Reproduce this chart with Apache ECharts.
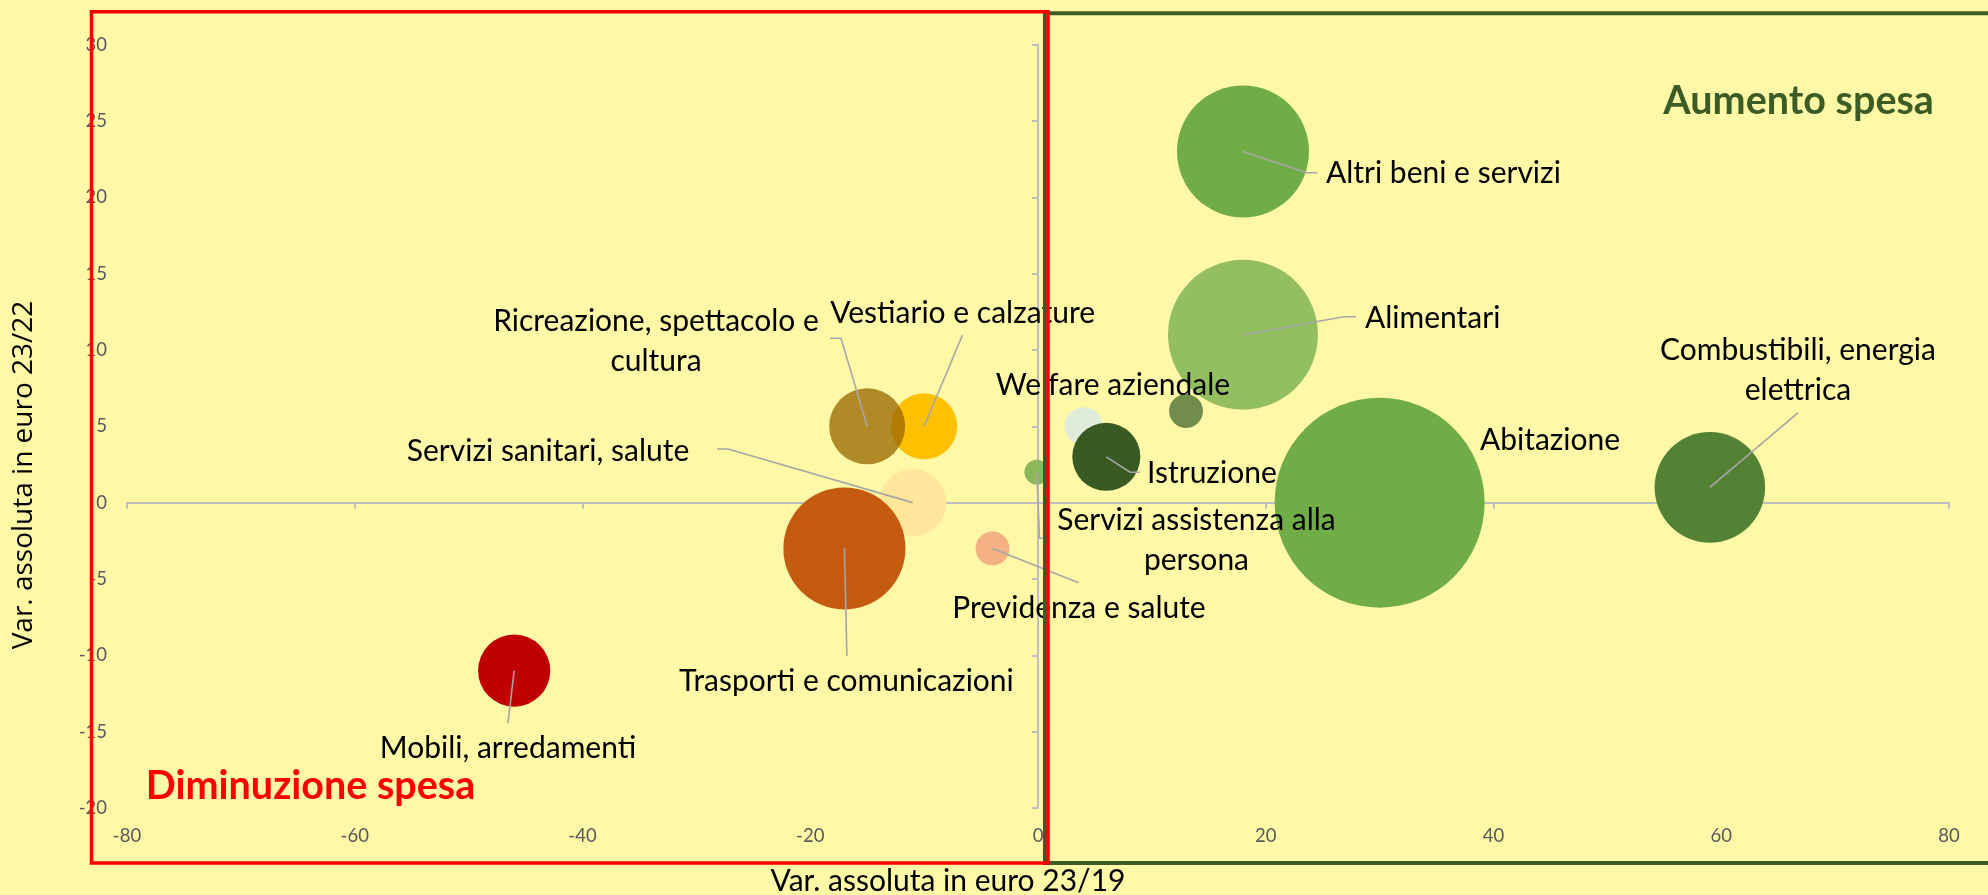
<!DOCTYPE html>
<html>
<head>
<meta charset="utf-8">
<script src="https://cdn.jsdelivr.net/npm/echarts@6/dist/echarts.min.js"></script>
<style>
  html, body { margin: 0; padding: 0; background: #FFF8A6; }
  #chart { width: 1988px; height: 895px; }
</style>
</head>
<body>
<div id="chart"></div>
<script>
// ---- data ----
const categories = [
  "Servizi sanitari, salute",
  "Trasporti e comunicazioni",
  "Mobili, arredamenti",
  "Previdenza e salute",
  "Vestiario e calzature",
  "Ricreazione, spettacolo e\ncultura",
  "Servizi assistenza alla\npersona",
  "Welfare aziendale",
  "Istruzione",
  "",
  "Altri beni e servizi",
  "Alimentari",
  "Abitazione",
  "Combustibili, energia\nelettrica"
];
const varAbs2319 = [-11, -17, -46, -4, -10, -15, -0.1, 4, 6, 13, 18, 18, 30, 59];
const varAbs2322 = [0, -3, -11, -3, 5, 5, 2, 5, 3, 6, 23, 11, 0, 1];
const bubbleSize = [10.2, 33.8, 11.8, 2.6, 9.9, 13.1, 1.4, 3.3, 10.5, 2.6, 39.5, 51, 100, 27.7];
const xTicks = { min: -80, max: 80, step: 20 };
const yTicks = { min: -20, max: 30, step: 5 };

// ---- styles / layout (not data) ----
const bubbleColors = [
  "#FFE699", "#C55A11", "#C00000", "#F4B183", "#FFC000", "rgba(153,102,0,0.76)",
  "#8DB75B", "#E0ECDA", "#3A5A24", "#718C4B", "#70AD47", "#94BF61", "#70AD47", "#548235"
];
// label offsets (px) from the bubble centre, with leader-line bend points
const labelLayout = [
  { dx: -364.7, dy: -51, align: "center", lead: [[-184.7, -53.7], [-195.7, -53.7]] },
  { dx: 2, dy: 133.2, align: "center", lead: [[2.5, 107.2]] },
  { dx: -6.2, dy: 77.6, align: "center", lead: [[-6.2, 52.6]] },
  { dx: 86.5, dy: 59.5, align: "center", lead: [[86.1, 34.2]] },
  { dx: 38.5, dy: -113, align: "center", lead: [[38.4, -91.3]] },
  { dx: -211.2, dy: -85.3, align: "center", lead: [[-26.2, -88], [-37.2, -88]] },
  { dx: 159.6, dy: 67.8, align: "center", lead: [[2.6, 66.1], [10, 66.1]] },
  { dx: 29.4, dy: -41.3, align: "center", lead: null },
  { dx: 40.7, dy: 16.4, align: "left", lead: [[23.7, 15.4], [33.4, 15.4]] },
  null,
  { dx: 83, dy: 21.5, align: "left", lead: [[64, 21.2], [74.4, 21.2]] },
  { dx: 122, dy: -16.7, align: "left", lead: [[101, -18], [113, -18]] },
  { dx: 170.4, dy: -62.7, align: "center", lead: null },
  { dx: 88.1, dy: -117.4, align: "center", lead: [[88.1, -74.4]] }
];

const LABEL_FONT = "30px Lato";
const TICK_COLOR = "#595959";
const AXIS_COLOR = "#BFBFBF";

const bubbleData = categories.map((name, i) => ({
  name: name,
  value: [varAbs2319[i], varAbs2322[i], bubbleSize[i]],
  itemStyle: { color: bubbleColors[i], opacity: 1 }
}));

const chart = echarts.init(document.getElementById("chart"), null, { renderer: "canvas" });

const labelAxis = (pos, t) => ({
  type: "value", position: pos, min: t.min, max: t.max, interval: t.step,
  axisLine: { show: false, onZero: false },
  axisTick: { show: false },
  splitLine: { show: false },
  axisLabel: { color: TICK_COLOR, fontFamily: "Lato", fontSize: 18.5, margin: pos === "left" ? 20 : 19 }
});
const lineAxis = (pos, t) => ({
  type: "value", position: pos, min: t.min, max: t.max, interval: t.step,
  axisLine: { show: true, onZero: true, onZeroAxisIndex: 0, lineStyle: { color: AXIS_COLOR, width: 2 } },
  axisTick: { show: true, inside: true, length: 6, lineStyle: { color: AXIS_COLOR, width: 2 } },
  splitLine: { show: false },
  axisLabel: { show: false }
});

chart.setOption({
  animation: false,
  backgroundColor: "#FFF8A6",
  grid: { left: 127, right: 39, top: 44.6, bottom: 87, containLabel: false, outerBoundsMode: "none" },
  xAxis: [labelAxis("bottom", xTicks), lineAxis("top", xTicks)],
  yAxis: [labelAxis("left", yTicks), lineAxis("right", yTicks)],
  series: [
    {
      type: "scatter",
      xAxisIndex: 0, yAxisIndex: 0,
      symbol: "circle",
      symbolSize: (val) => 21 * Math.sqrt(val[2]),
      data: bubbleData,
      itemStyle: { opacity: 1 },
      silent: true,
      z: 3
    },
    {
      type: "custom",
      xAxisIndex: 0, yAxisIndex: 0,
      clip: false,
      silent: true,
      z: 5,
      data: bubbleData.map(d => d.value),
      renderItem: function (params, api) {
        const L = labelLayout[params.dataIndex];
        const text = categories[params.dataIndex];
        if (!L || !text) return { type: "group", children: [] };
        const c = api.coord([api.value(0), api.value(1)]);
        const children = [];
        if (L.lead) {
          const pts = [[c[0], c[1]]].concat(L.lead.map(p => [c[0] + p[0], c[1] + p[1]]));
          children.push({
            type: "polyline",
            shape: { points: pts },
            style: { stroke: "#A6A6A6", lineWidth: 1.6, fill: null }
          });
        }
        children.push({
          type: "text",
          x: c[0] + L.dx, y: c[1] + L.dy,
          style: {
            text: text, font: LABEL_FONT, fill: "#000000",
            align: L.align, verticalAlign: "middle", lineHeight: 40
          }
        });
        return { type: "group", children: children };
      }
    }
  ],
  graphic: [
    { type: "rect", z: 100, silent: true,
      shape: { x: 1045, y: 13.3, width: 1000, height: 849.7 },
      style: { fill: null, stroke: "#3B5C24", lineWidth: 4 } },
    { type: "rect", z: 101, silent: true,
      shape: { x: 91.5, y: 11.7, width: 956.5, height: 851.3 },
      style: { fill: null, stroke: "#FF0000", lineWidth: 3.5 } },
    { type: "text", z: 102, silent: true, x: 310.5, y: 786,
      style: { text: "Diminuzione spesa", font: "bold 39.5px Lato", fill: "#FF0000", align: "center", verticalAlign: "middle" } },
    { type: "text", z: 102, silent: true, x: 1798.6, y: 101,
      style: { text: "Aumento spesa", font: "bold 39.5px Lato", fill: "#3B5C24", align: "center", verticalAlign: "middle" } },
    { type: "text", z: 102, silent: true, x: 948, y: 881,
      style: { text: "Var. assoluta in euro 23/19", font: "30px Lato", fill: "#000000", align: "center", verticalAlign: "middle" } },
    { type: "text", z: 102, silent: true, x: 24, y: 475, rotation: Math.PI / 2,
      style: { text: "Var. assoluta in euro 23/22", font: "28px 'Open Sans'", fill: "#000000", align: "center", verticalAlign: "middle" } }
  ]
});
</script>
</body>
</html>
